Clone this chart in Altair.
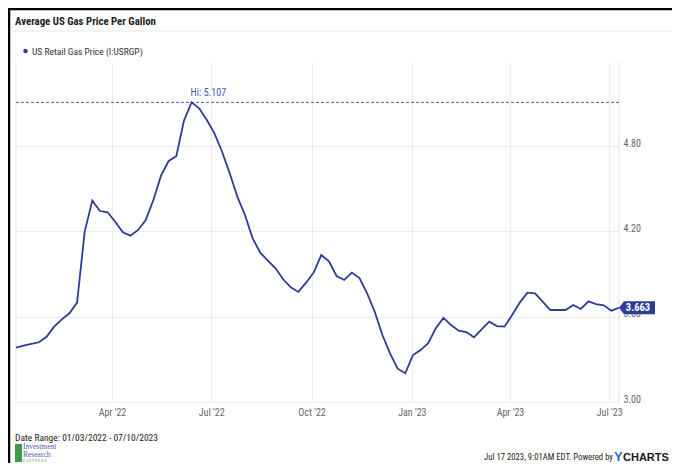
import altair as alt
import pandas as pd

# ---- data ----
start_date = "2022-01-03"
n_weeks = 80
prices = [
    3.382, 3.396, 3.408, 3.420, 3.459, 3.530, 3.581, 3.624, 3.699, 4.198,
    4.416, 4.343, 4.334, 4.268, 4.193, 4.170, 4.210, 4.280, 4.420, 4.592,
    4.695, 4.728, 4.978, 5.107, 5.065, 4.983, 4.889, 4.760, 4.608, 4.444,
    4.315, 4.151, 4.050, 3.994, 3.940, 3.863, 3.806, 3.774, 3.839, 3.910,
    4.034, 3.990, 3.886, 3.858, 3.910, 3.872, 3.764, 3.635, 3.471, 3.342,
    3.234, 3.202, 3.330, 3.365, 3.413, 3.518, 3.591, 3.541, 3.502, 3.492,
    3.455, 3.511, 3.565, 3.534, 3.530, 3.612, 3.699, 3.769, 3.764, 3.706,
    3.647, 3.647, 3.647, 3.682, 3.654, 3.708, 3.689, 3.680, 3.642, 3.663,
]
y_ticks = [3.0, 3.6, 4.2, 4.8]
x_tick_dates = ["2022-04-01", "2022-07-01", "2022-10-01", "2023-01-01", "2023-04-01", "2023-07-01"]

title_text = "Average US Gas Price Per Gallon"
legend_text = "US Retail Gas Price (I:USRGP)"
date_range_text = "Date Range: 01/03/2022 - 07/10/2023"
footer_text = "Jul 17 2023, 9:01AM EDT. Powered by"

dates = pd.date_range(start_date, periods=n_weeks, freq="7D")
df = pd.DataFrame({"date": dates, "price": prices})
imax = int(df["price"].idxmax())
df_hi = df.iloc[[imax]].assign(label=lambda d: "Hi: " + d["price"].map(lambda v: f"{v:.3f}"))
df_last = df.iloc[[-1]].assign(label=lambda d: d["price"].map(lambda v: f"{v:.3f}"))
df_edges = df.iloc[[0, -1]]

BLUE = "#2e3c96"
FONT = "Roboto Condensed, Roboto"
PW, PH = 603, 340
OX, OY = 16, 62  # page position of plot origin
SVG_W, SVG_H = 664, 455

ymin, ymax = 3.0, 5.391
xs = alt.X("date:T", scale=alt.Scale(domain=[dates[0].isoformat(), dates[-1].isoformat()]),
           axis=alt.Axis(values=[alt.DateTime(year=int(d[:4]), month=int(d[5:7]), date=1) for d in x_tick_dates],
                         format="%b '%y", title=None, grid=True, gridColor="#ececec",
                         domain=False, ticks=False, labelPadding=5, labelFontSize=10,
                         labelColor="#666", labelFont=FONT))
ys = alt.Y("price:Q", scale=alt.Scale(domain=[ymin, ymax], nice=False, zero=False),
           axis=alt.Axis(orient="right", values=y_ticks, format=".2f", title=None,
                         grid=True, gridColor="#ececec", domain=False, ticks=False,
                         labelBaseline="alphabetic", labelPadding=4, labelFontSize=10,
                         labelColor="#666", labelFont=FONT))

base = alt.Chart(df)
line = base.mark_line(color=BLUE, strokeWidth=1.8).encode(x=xs, y=ys)

edges = alt.Chart(df_edges).mark_rule(color="#e3e3e3", strokeWidth=1).encode(x="date:T")

hi_rule = alt.Chart(df_hi).mark_rule(color="#5561aa", strokeWidth=1, strokeDash=[3, 2]).encode(
    y="price:Q", x=alt.value(0), x2=alt.value(PW))
hi_text = alt.Chart(df_hi).mark_text(align="left", baseline="alphabetic", dy=-6, dx=-1,
                                     fontSize=10, color="#4a58a8", font=FONT).encode(
    x="date:T", y="price:Q", text="label:N")

tag_path = "M0,0 L0.77,-1 L5.54,-1 L5.54,1 L0.77,1 Z"
tag = alt.Chart(df_last).mark_point(shape=tag_path, size=169, filled=True, color=BLUE,
                                    opacity=1, strokeWidth=0).encode(x="date:T", y="price:Q")
tag_text = alt.Chart(df_last).mark_text(align="center", baseline="middle", dx=19, dy=0.5,
                                        fontSize=10.5, fontWeight="bold", color="white",
                                        font=FONT).encode(x="date:T", y="price:Q", text="label:N")


def txt(s, px, py, **kw):
    return alt.Chart(pd.DataFrame({"t": [s]})).mark_text(baseline="alphabetic", **kw).encode(
        text="t:N", x=alt.value(px - OX), y=alt.value(py - OY))


def hrule(px1, px2, py, color, w):
    return alt.Chart(pd.DataFrame({"t": [0]})).mark_rule(color=color, strokeWidth=w).encode(
        x=alt.value(px1 - OX), x2=alt.value(px2 - OX), y=alt.value(py - OY))


def vrule(px, py1, py2, color, w):
    return alt.Chart(pd.DataFrame({"t": [0]})).mark_rule(color=color, strokeWidth=w).encode(
        x=alt.value(px - OX), y=alt.value(py1 - OY), y2=alt.value(py2 - OY))


frame_top = hrule(8, 672, 9, "#000000", 2.5)
frame_left = vrule(9, 8, 463, "#000000", 2.5)
sep = hrule(14, 672, 31, "#e6e6e6", 1)
title = txt(title_text, 15, 25, align="left", fontSize=10.8, fontWeight="bold", color="#222", font=FONT)
leg_dot = alt.Chart(pd.DataFrame({"t": [0]})).mark_point(filled=True, size=20, color=BLUE, opacity=1).encode(
    x=alt.value(25.5 - OX), y=alt.value(51 - OY))
leg_text = txt(legend_text, 32, 54.5, align="left", fontSize=9.5, color="#333", font=FONT)
date_rng = txt(date_range_text, 15, 441, align="left", fontSize=9.5, color="#222", font=FONT)
logo_rect = alt.Chart(pd.DataFrame({"t": [0]})).mark_rect(color="#3f9a48").encode(
    x=alt.value(15 - OX), x2=alt.value(22 - OX), y=alt.value(444 - OY), y2=alt.value(462 - OY))
logo_1 = txt("Investment", 23, 449, align="left", fontSize=7.5, color="#4e5aa8", font="Liberation Serif")
logo_2 = txt("Research", 23, 457, align="left", fontSize=7.5, color="#4e5aa8", font="Liberation Serif")
logo_3 = txt("P A R T N E R S", 23, 462, align="left", fontSize=3.5, color="#3f9a48", font="Liberation Serif")
footer = txt(footer_text, 613, 459.5, align="right", fontSize=8.7, color="#222", font=FONT)
yc_y = txt("Y", 614, 460.5, align="left", fontSize=13, fontWeight="bold", color="#1f6fc5", font="Liberation Sans")
yc_c = txt("CHARTS", 623, 460.5, align="left", fontSize=11, fontWeight="bold", color="#1a1a1a",
           font="Liberation Sans")

chart = alt.layer(
    edges, hi_rule, line, hi_text, tag, tag_text,
    frame_top, frame_left, sep, title, leg_dot, leg_text, date_rng,
    logo_rect, logo_1, logo_2, logo_3, footer, yc_y, yc_c,
).properties(
    width=PW, height=PH,
    padding={"left": 8, "top": 54, "right": SVG_W - 8 - PW, "bottom": SVG_H - 54 - PH},
    autosize=alt.AutoSizeParams(type="none"),
    background="white",
).configure_view(strokeWidth=0)

chart.save("out.html", embed_options={"renderer": "svg", "actions": False})
